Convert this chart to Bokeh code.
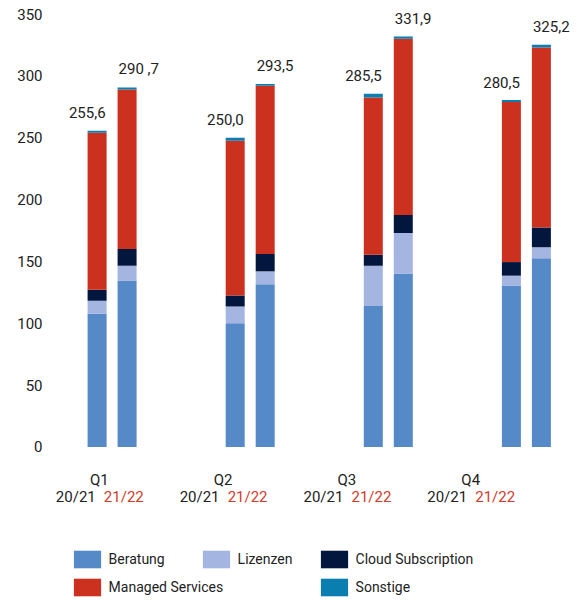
from bokeh.plotting import figure
from bokeh.models import ColumnDataSource, FixedTicker, Legend, LegendItem, Range1d
from bokeh.core.properties import value
from bokeh.embed import file_html
from bokeh.resources import INLINE

# ---------------- data ----------------
quarters = ["Q1", "Q2", "Q3", "Q4"]
years = ["20/21", "21/22"]
segments = ["Beratung", "Lizenzen", "Cloud Subscription", "Managed Services", "Sonstige"]

beratung_2021 = [107.7, 100.0, 114.0, 130.5]
lizenzen_2021 = [10.5, 13.5, 32.5, 8.0]
cloud_2021 = [8.9, 9.0, 9.0, 11.0]
managed_2021 = [127.0, 125.0, 127.0, 129.5]
sonstige_2021 = [1.5, 2.5, 3.0, 1.5]
total_labels_2021 = ["255,6", "250,0", "285,5", "280,5"]

beratung_2122 = [134.5, 131.5, 140.0, 152.5]
lizenzen_2122 = [12.0, 10.5, 33.0, 9.0]
cloud_2122 = [13.5, 14.0, 14.5, 16.0]
managed_2122 = [129.0, 136.0, 142.5, 145.5]
sonstige_2122 = [1.7, 1.5, 1.9, 2.2]
total_labels_2122 = ["290 ,7", "293,5", "331,9", "325,2"]

y_ticks = [0, 50, 100, 150, 200, 250, 300, 350]

# ---------------- style ----------------
colors = ["#5589C8", "#A3B5E0", "#03173E", "#CC311F", "#0A7DB1"]
TEXT = "#222222"
RED_TEXT = "#D33A2B"
FONT = "Roboto"

W, H = 585, 600
BAR_OFFSET = 0.1086   # half distance between the two bars of a quarter (group units)
BAR_WIDTH = 0.1376
LABEL_STEP = 0.8965   # spacing of the quarter captions (group units)
LABEL_SHIFT = -0.0927

p = figure(width=W, height=H, output_backend="svg", toolbar_location=None,
           x_range=Range1d(-0.4605, 3.428), y_range=Range1d(-124.1, 360.96),
           x_axis_location=None, min_border_left=48, min_border_right=0,
           min_border_top=0, min_border_bottom=0)
p.outline_line_color = None
p.xgrid.visible = False
p.ygrid.visible = False
p.background_fill_color = "white"
p.border_fill_color = "white"

series = {
    "20/21": [beratung_2021, lizenzen_2021, cloud_2021, managed_2021, sonstige_2021],
    "21/22": [beratung_2122, lizenzen_2122, cloud_2122, managed_2122, sonstige_2122],
}
total_labels = {"20/21": total_labels_2021, "21/22": total_labels_2122}

legend_renderers = None
for yi, yr in enumerate(years):
    off = -BAR_OFFSET if yi == 0 else BAR_OFFSET
    data = {"x": [i + off for i in range(len(quarters))]}
    for name, vals in zip(segments, series[yr]):
        data[name] = vals
    data["total"] = [sum(v) for v in zip(*series[yr])]
    data["label"] = total_labels[yr]
    if yi == 0:
        data["lx"] = [x + BAR_WIDTH / 2 for x in data["x"]]
    else:
        data["lx"] = [x - BAR_WIDTH / 2 for x in data["x"]]
    src = ColumnDataSource(data)
    rs = p.vbar_stack(segments, x="x", width=BAR_WIDTH, source=src,
                      fill_color=colors, line_color=None)
    if legend_renderers is None:
        legend_renderers = rs
    p.text(x="lx", y="total", text="label", source=src,
           text_align="right" if yi == 0 else "left", text_baseline="middle",
           x_offset=-1 if yi == 0 else 1, y_offset=-18,
           text_font=value(FONT), text_font_size="15px", text_color=TEXT)

# quarter captions
cap = ColumnDataSource(dict(
    x=[LABEL_SHIFT + i * LABEL_STEP for i in range(len(quarters))],
    y=[0] * len(quarters),
    q=quarters,
    y1=[years[0]] * len(quarters),
    y2=[years[1]] * len(quarters),
))
p.text(x="x", y="y", text="q", source=cap, text_align="center", text_baseline="middle",
       y_offset=33.5, text_font=value(FONT), text_font_size="15px", text_color=TEXT)
p.text(x="x", y="y", text="y1", source=cap, text_align="center", text_baseline="middle",
       x_offset=-23.5, y_offset=50.5, text_font=value(FONT), text_font_size="15px",
       text_color=TEXT)
p.text(x="x", y="y", text="y2", source=cap, text_align="center", text_baseline="middle",
       x_offset=24.5, y_offset=50.5, text_font=value(FONT), text_font_size="15px",
       text_color=RED_TEXT)

# y axis
ax = p.yaxis[0]
ax.ticker = FixedTicker(ticks=y_ticks)
ax.axis_line_color = None
ax.major_tick_line_color = None
ax.minor_tick_line_color = None
ax.major_tick_out = 0
ax.major_tick_in = 0
ax.major_label_standoff = 6
ax.major_label_text_font = FONT
ax.major_label_text_font_size = "15px"
ax.major_label_text_color = TEXT

# legend (three columns)
def make_legend(idx, loc):
    items = [LegendItem(label=segments[i], renderers=[legend_renderers[i]]) for i in idx]
    lg = Legend(items=items, location=loc, orientation="vertical",
                glyph_width=34, glyph_height=22, label_height=22, label_standoff=5,
                spacing=6, padding=0, margin=0, border_line_color=None,
                background_fill_alpha=0, label_text_font=FONT,
                label_text_font_size="14px", label_text_color=TEXT)
    p.add_layout(lg, "center")

make_legend([0, 3], (21.6, 2.2))
make_legend([1], (150.6, 30.2))
make_legend([2, 4], (268.6, 2.2))

open("out.html", "w").write(file_html(p, INLINE))
